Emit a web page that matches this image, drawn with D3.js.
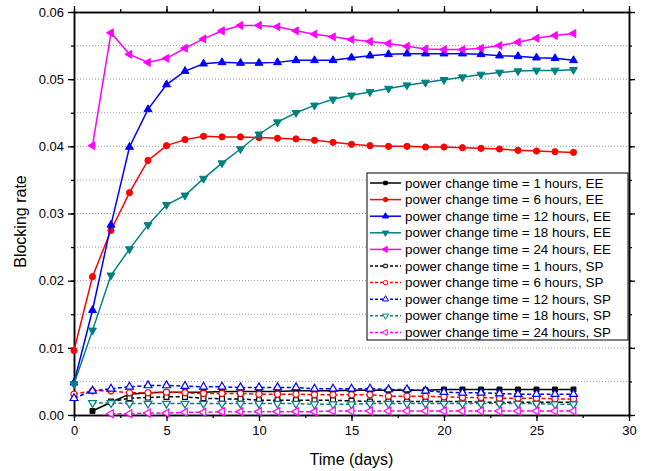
<!DOCTYPE html>
<html>
<head>
<meta charset="utf-8">
<script src="https://cdn.jsdelivr.net/npm/d3@7"></script>
<style>
  body { margin: 0; background: #fff; }
  svg { font-family: "Liberation Sans", Arial, sans-serif; }
</style>
</head>
<body>
<div id="chart"></div>
<script>
// Datos
const days = [0, 1, 2, 3, 4, 5, 6, 7, 8, 9, 10, 11, 12, 13, 14, 15, 16, 17, 18, 19, 20, 21, 22, 23, 24, 25, 26, 27];

const ee1 = [null, 0.0006, 0.0019, 0.0031, 0.0033, 0.0034, 0.0034, 0.0034, 0.0035, 0.0035, 0.0035, 0.0035, 0.0036, 0.0036, 0.0036, 0.0037, 0.0037, 0.0037, 0.0037, 0.0037, 0.0038, 0.0038, 0.0038, 0.0038, 0.0038, 0.0038, 0.0038, 0.0038];
const ee6 = [0.0096, 0.0206, 0.0275, 0.0331, 0.0379, 0.0401, 0.0410, 0.0415, 0.0414, 0.0414, 0.0413, 0.0412, 0.0411, 0.0409, 0.0406, 0.0403, 0.0401, 0.0400, 0.0400, 0.0399, 0.0399, 0.0398, 0.0397, 0.0396, 0.0394, 0.0393, 0.0392, 0.0391];
const ee12 = [0.0048, 0.0156, 0.0283, 0.0399, 0.0455, 0.0492, 0.0512, 0.0523, 0.0525, 0.0524, 0.0524, 0.0525, 0.0528, 0.0528, 0.0528, 0.0532, 0.0535, 0.0537, 0.0538, 0.0538, 0.0538, 0.0538, 0.0537, 0.0535, 0.0534, 0.0532, 0.0531, 0.0528];
const ee18 = [0.0046, 0.0126, 0.0208, 0.0247, 0.0283, 0.0313, 0.0327, 0.0352, 0.0375, 0.0396, 0.0418, 0.0436, 0.0450, 0.0461, 0.0470, 0.0476, 0.0481, 0.0486, 0.0491, 0.0495, 0.0499, 0.0503, 0.0507, 0.0510, 0.0512, 0.0513, 0.0513, 0.0514];
const ee24 = [null, 0.0401, 0.0569, 0.0537, 0.0525, 0.0531, 0.0546, 0.0560, 0.0572, 0.0580, 0.0580, 0.0578, 0.0572, 0.0567, 0.0563, 0.0559, 0.0556, 0.0553, 0.0549, 0.0545, 0.0544, 0.0544, 0.0546, 0.0550, 0.0555, 0.0561, 0.0565, 0.0568];

const sp1 = [null, null, 0.0020, 0.0025, 0.0026, 0.0027, 0.0027, 0.0025, 0.0024, 0.0024, 0.0022, 0.0022, 0.0022, 0.0022, 0.0022, 0.0021, 0.0020, 0.0020, 0.0020, 0.0020, 0.0020, 0.0020, 0.0019, 0.0019, 0.0019, 0.0019, 0.0019, 0.0019];
const sp6 = [0.0031, 0.0036, 0.0036, 0.0033, 0.0033, 0.0034, 0.0033, 0.0032, 0.0032, 0.0032, 0.0031, 0.0031, 0.0031, 0.0030, 0.0030, 0.0030, 0.0030, 0.0028, 0.0028, 0.0028, 0.0027, 0.0026, 0.0026, 0.0025, 0.0025, 0.0025, 0.0024, 0.0024];
const sp12 = [0.0025, 0.0036, 0.0039, 0.0042, 0.0044, 0.0044, 0.0043, 0.0042, 0.0042, 0.0041, 0.0041, 0.0041, 0.0041, 0.0039, 0.0039, 0.0039, 0.0039, 0.0038, 0.0038, 0.0036, 0.0034, 0.0033, 0.0033, 0.0032, 0.0031, 0.0031, 0.0031, 0.0031];
const sp18 = [null, 0.0018, 0.0018, 0.0017, 0.0017, 0.0017, 0.0017, 0.0017, 0.0017, 0.0017, 0.0017, 0.0017, 0.0017, 0.0016, 0.0016, 0.0016, 0.0017, 0.0017, 0.0017, 0.0017, 0.0017, 0.0017, 0.0017, 0.0017, 0.0017, 0.0017, 0.0016, 0.0016];
const sp24 = [null, null, 0.0002, 0.0002, 0.0003, 0.0003, 0.0004, 0.0004, 0.0005, 0.0005, 0.0005, 0.0005, 0.0005, 0.0005, 0.0006, 0.0006, 0.0006, 0.0006, 0.0006, 0.0006, 0.0006, 0.0006, 0.0006, 0.0006, 0.0006, 0.0006, 0.0006, 0.0006];

const seriesNames = [
	'power change time = 1 hours, EE',
	'power change time = 6 hours, EE',
	'power change time = 12 hours, EE',
	'power change time = 18 hours, EE',
	'power change time = 24 hours, EE',
	'power change time = 1 hours, SP',
	'power change time = 6 hours, SP',
	'power change time = 12 hours, SP',
	'power change time = 18 hours, SP',
	'power change time = 24 hours, SP',
];
const seriesValues = [ee1, ee6, ee12, ee18, ee24, sp1, sp6, sp12, sp18, sp24];
const seriesColors = ['#000000', '#ff0000', '#0000ff', '#008080', '#ff00ff'];
const seriesMarkers = ['square', 'circle', 'up', 'down', 'left'];

const xTicks = [0, 5, 10, 15, 20, 25, 30];
const yTicks = [0, 0.01, 0.02, 0.03, 0.04, 0.05, 0.06];

// Configuración del gráfico
const W = 648, H = 471;
const margin = { top: 12, right: 19, bottom: 56, left: 74 };
const width = W - margin.left - margin.right;
const height = H - margin.top - margin.bottom;

const svg = d3.select('#chart').append('svg')
	.attr('width', W)
	.attr('height', H);

const g = svg.append('g').attr('transform', `translate(${margin.left},${margin.top})`);

const x = d3.scaleLinear().domain([0, 30]).range([0, width]);
const y = d3.scaleLinear().domain([0, 0.06]).range([height, 0]);

// Líneas de cuadrícula punteadas
const gridVals = d3.range(1, 12).map((i) => i * 0.005);
g.selectAll('.grid').data(gridVals).enter().append('line')
	.attr('x1', 0).attr('x2', width)
	.attr('y1', (d) => y(d)).attr('y2', (d) => y(d))
	.attr('stroke', '#9a9a9a')
	.attr('stroke-width', 1)
	.attr('stroke-dasharray', '1,2');

// Ejes
const minorX = d3.range(0, 31, 2.5);
const minorY = d3.range(0, 13).map((i) => i * 0.005);

function styleAxis(sel) {
	sel.select('.domain').attr('stroke', '#000').attr('stroke-width', 1.5);
	sel.selectAll('.tick line').attr('stroke', '#000').attr('stroke-width', 1.3);
	sel.selectAll('text').attr('font-size', 13).attr('fill', '#000');
}

g.append('g').attr('transform', `translate(0,${height})`)
	.call(d3.axisBottom(x).tickValues(minorX).tickSize(3).tickFormat('').tickSizeOuter(0))
	.call(styleAxis);
g.append('g').attr('transform', `translate(0,${height})`)
	.call(d3.axisBottom(x).tickValues(xTicks).tickSize(6).tickFormat(d3.format('d')).tickSizeOuter(0).tickPadding(5))
	.call(styleAxis);
g.append('g').attr('transform', 'translate(0,0)')
	.call(d3.axisTop(x).tickValues(minorX).tickSize(3).tickFormat('').tickSizeOuter(0))
	.call(styleAxis);
g.append('g').attr('transform', 'translate(0,0)')
	.call(d3.axisTop(x).tickValues(xTicks).tickSize(6).tickFormat('').tickSizeOuter(0))
	.call(styleAxis);

g.append('g')
	.call(d3.axisLeft(y).tickValues(minorY).tickSize(3).tickFormat('').tickSizeOuter(0))
	.call(styleAxis);
g.append('g')
	.call(d3.axisLeft(y).tickValues(yTicks).tickSize(6).tickFormat(d3.format('.2f')).tickSizeOuter(0).tickPadding(4))
	.call(styleAxis);
g.append('g').attr('transform', `translate(${width},0)`)
	.call(d3.axisRight(y).tickValues(minorY).tickSize(3).tickFormat('').tickSizeOuter(0))
	.call(styleAxis);
g.append('g').attr('transform', `translate(${width},0)`)
	.call(d3.axisRight(y).tickValues(yTicks).tickSize(6).tickFormat('').tickSizeOuter(0))
	.call(styleAxis);

// Títulos de los ejes
svg.append('text')
	.attr('x', margin.left + width / 2)
	.attr('y', 465)
	.attr('text-anchor', 'middle')
	.attr('font-size', 16)
	.text('Time (days)');

svg.append('text')
	.attr('transform', `translate(26,${margin.top + height / 2 + 8}) rotate(-90)`)
	.attr('text-anchor', 'middle')
	.attr('font-size', 16)
	.text('Blocking rate');

// Marcadores
function markerPath(type, size) {
	if (type === 'square') return d3.symbol(d3.symbolSquare, size)();
	if (type === 'circle') return d3.symbol(d3.symbolCircle, size)();
	return d3.symbol(d3.symbolTriangle, size)();
}
const markerRotate = { square: 0, circle: 0, up: 0, down: 180, left: -90 };

function drawMarkers(sel, pts, type, color, filled) {
	const size = type === 'square' ? 24 : (type === 'circle' ? 30 : 27);
	sel.selectAll('path.m').data(pts).enter().append('path')
		.attr('class', 'm')
		.attr('d', markerPath(type, size))
		.attr('transform', (d) => `translate(${x(d.x)},${y(d.y)}) rotate(${markerRotate[type]})`)
		.attr('fill', filled ? color : '#fff')
		.attr('stroke', color)
		.attr('stroke-width', filled ? 1 : 1.2);
}

const line = d3.line()
	.defined((d) => d.y !== null)
	.x((d) => x(d.x))
	.y((d) => y(d.y));

seriesValues.forEach((vals, i) => {
	const isSP = i >= 5;
	const color = seriesColors[i % 5];
	const type = seriesMarkers[i % 5];
	const pts = days.map((d, j) => ({ x: d, y: vals[j] }));
	const sg = g.append('g');
	sg.append('path')
		.datum(pts)
		.attr('d', line)
		.attr('fill', 'none')
		.attr('stroke', color)
		.attr('stroke-width', 1.5)
		.attr('stroke-dasharray', isSP ? '4,2.5' : null);
	drawMarkers(sg, pts.filter((p) => p.y !== null), type, color, !isSP);
});

// Leyenda
const lgX = 367, lgY = 173, lgW = 261, lgH = 167, rowH = 16.6;
const legend = svg.append('g');
legend.append('rect')
	.attr('x', lgX).attr('y', lgY)
	.attr('width', lgW).attr('height', lgH)
	.attr('fill', '#fff')
	.attr('stroke', '#000')
	.attr('stroke-width', 1);

seriesNames.forEach((name, i) => {
	const isSP = i >= 5;
	const color = seriesColors[i % 5];
	const type = seriesMarkers[i % 5];
	const cy = lgY + 10 + i * rowH;
	const row = legend.append('g');
	row.append('line')
		.attr('x1', lgX + 3).attr('x2', lgX + 34)
		.attr('y1', cy).attr('y2', cy)
		.attr('stroke', color)
		.attr('stroke-width', 1.5)
		.attr('stroke-dasharray', isSP ? '3,2' : null);
	const size = type === 'square' ? 12 : (type === 'circle' ? 15 : 16);
	row.append('path')
		.attr('d', markerPath(type, size))
		.attr('transform', `translate(${lgX + 18.5},${cy}) rotate(${markerRotate[type]})`)
		.attr('fill', isSP ? '#fff' : color)
		.attr('stroke', color)
		.attr('stroke-width', 1);
	row.append('text')
		.attr('x', lgX + 38)
		.attr('y', cy + 4.5)
		.attr('font-size', 13.4)
		.text(name);
});
</script>
</body>
</html>
